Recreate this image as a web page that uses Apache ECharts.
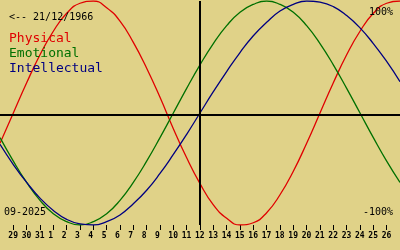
<!DOCTYPE html>
<html><head><meta charset="utf-8">
<script src="https://cdn.jsdelivr.net/npm/echarts@6/dist/echarts.min.js"></script>
<style>html,body{margin:0;padding:0;background:#e0d288}#c{width:400px;height:250px}</style>
</head><body><div id="c"></div>
<script>
// x position index of each sample (0 = 28 Aug, 15 = 12 Sep "today", 30 = 27 Sep)
const DAY_INDEX = [0,1,2,3,4,5,6,7,8,9,10,11,12,13,14,15,16,17,18,19,20,21,22,23,24,25,26,27,28,29,30];
const TICK_DAYS = [1,2,3,4,5,6,7,8,9,10,11,12,13,14,15,16,17,18,19,20,21,22,23,24,25,26,27,28,29];
const DAY_LABELS = ['29','30','31','1','2','3','4','5','6','7','8','9','10','11','12','13','14','15','16','17','18','19','20','21','22','23','24','25','26'];
const TODAY = 15;
const PHYSICAL = [-0.27,0,0.27,0.52,0.73,0.89,0.98,1.00,0.94,0.82,0.63,0.40,0.14,-0.14,-0.40,-0.63,-0.82,-0.94,-1.00,-0.98,-0.89,-0.73,-0.52,-0.27,0,0.27,0.52,0.73,0.89,0.98,1.00];
const EMOTIONAL = [-0.22,-0.43,-0.62,-0.78,-0.90,-0.97,-1.00,-0.97,-0.90,-0.78,-0.62,-0.43,-0.22,0,0.22,0.43,0.62,0.78,0.90,0.97,1.00,0.97,0.90,0.78,0.62,0.43,0.22,0,-0.22,-0.43,-0.62];
const INTELLECTUAL = [-0.28,-0.46,-0.62,-0.76,-0.87,-0.95,-0.99,-1.00,-0.97,-0.91,-0.81,-0.69,-0.54,-0.37,-0.19,0,0.19,0.37,0.54,0.69,0.81,0.91,0.97,1.00,0.99,0.95,0.87,0.76,0.62,0.46,0.28];
const BIRTH_TEXT = '<-- 21/12/1966';
const MONTH_TEXT = '09-2025';
const TOP_TEXT = '100%';
const BOTTOM_TEXT = '-100%';

const MONO = 'DejaVu Sans Mono';
const pairs = arr => arr.map((v, i) => [DAY_INDEX[i], v]);
const chart = echarts.init(document.getElementById('c'), null, {renderer: 'canvas'});
const lineSeries = (name, color, data, extra) => Object.assign({
  name, type: 'line', data: pairs(data), smooth: 0.5, showSymbol: false, symbol: 'none',
  lineStyle: {color, width: 1.3}, itemStyle: {color}, silent: true
}, extra || {});
chart.setOption({
  backgroundColor: '#e0d288',
  animation: false,
  grid: {left: 0, right: 0, top: 1, bottom: 25},
  legend: {
    orient: 'vertical', left: 4, top: 32, icon: 'none', itemWidth: 0, itemHeight: 14, itemGap: 1,
    selectedMode: false, padding: 0,
    textStyle: {fontFamily: MONO, fontSize: 13, lineHeight: 14},
    data: [
      {name: 'Physical', textStyle: {color: '#e00000'}},
      {name: 'Emotional', textStyle: {color: '#007000'}},
      {name: 'Intellectual', textStyle: {color: '#000080'}}
    ]
  },
  title: [
    {text: BIRTH_TEXT, left: 9, top: 12, padding: 0, textStyle: {fontFamily: MONO, fontSize: 10, fontWeight: 'normal', color: '#000'}},
    {text: TOP_TEXT, right: 7, top: 7, padding: 0, textStyle: {fontFamily: MONO, fontSize: 10, fontWeight: 'normal', color: '#000'}},
    {text: BOTTOM_TEXT, right: 7, top: 207, padding: 0, textStyle: {fontFamily: MONO, fontSize: 10, fontWeight: 'normal', color: '#000'}},
    {text: MONTH_TEXT, left: 4, top: 207, padding: 0, textStyle: {fontFamily: MONO, fontSize: 10, fontWeight: 'normal', color: '#000'}}
  ],
  xAxis: [
    {type: 'value', min: 0, max: 30, position: 'bottom',
      axisLine: {show: false, onZero: false}, splitLine: {show: false},
      axisTick: {show: true, length: 5, customValues: TICK_DAYS, lineStyle: {color: '#000', width: 1}},
      axisLabel: {show: false}},
    {type: 'value', min: 0.375, max: 30.375, position: 'bottom',
      axisLine: {show: false, onZero: false}, splitLine: {show: false}, axisTick: {show: false},
      axisLabel: {show: true, customValues: TICK_DAYS, align: 'left', margin: 7,
        formatter: v => DAY_LABELS[Math.round(v) - 1] || '',
        fontFamily: MONO, fontSize: 8, fontWeight: 'bold', color: '#000'}}
  ],
  yAxis: {type: 'value', min: -1, max: 1, show: false},
  series: [
    lineSeries('Physical', '#e00000', PHYSICAL, {
      markLine: {silent: true, symbol: 'none', label: {show: false},
        lineStyle: {color: '#000', width: 2, type: 'solid'},
        data: [{xAxis: TODAY}, {yAxis: -0.02}]}
    }),
    lineSeries('Emotional', '#007000', EMOTIONAL),
    lineSeries('Intellectual', '#000080', INTELLECTUAL)
  ]
});
</script></body></html>
